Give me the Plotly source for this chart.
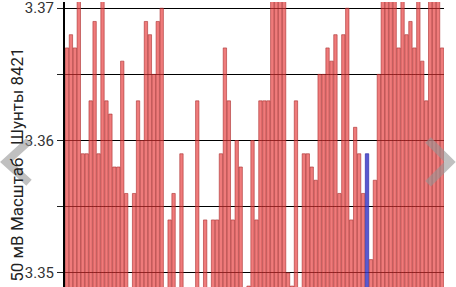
import plotly.graph_objects as go

# ---- data ----
values = [
    3.367, 3.368, 3.367, 3.371, 3.359, 3.359, 3.363, 3.369, 3.359, 3.371,
    3.363, 3.362, 3.358, 3.358, 3.366, 3.356, 3.348, 3.356, 3.363, 3.360,
    3.369, 3.368, 3.365, 3.369, 3.370, 3.348, 3.354, 3.356, 3.348, 3.359,
    3.348, 3.348, 3.348, 3.363, 3.348, 3.354, 3.348, 3.354, 3.354, 3.359,
    3.367, 3.363, 3.354, 3.360, 3.358, 3.348, 3.349, 3.360, 3.354, 3.363,
    3.363, 3.363, 3.371, 3.371, 3.371, 3.371, 3.350, 3.349, 3.363, 3.348,
    3.359, 3.359, 3.358, 3.357, 3.365, 3.365, 3.367, 3.366, 3.368, 3.356,
    3.368, 3.370, 3.354, 3.361, 3.359, 3.356, 3.359, 3.351, 3.357, 3.365,
    3.371, 3.371, 3.371, 3.371, 3.367, 3.371, 3.368, 3.369, 3.367, 3.371,
    3.366, 3.363, 3.371, 3.371, 3.371, 3.367,
]
highlight_index = 76
tick_values = [3.35, 3.355, 3.36, 3.365, 3.37]
tick_labels = ["3.35", "", "3.36", "", "3.37"]
y_title = "50 мВ Масштаб\u00a0\u00a0\u00a0Шунты 8421"

W, H = 456, 287
ML, MR, MT, MB = 65, 12, 0, 0
PW = W - ML - MR
PH = H - MT - MB


def px(x):
    return (x - ML) / PW


def py(y):
    return (H - MB - y) / PH


idx = list(range(len(values)))
fill = ["rgba(230,55,55,0.66)"] * len(values)
edge = ["rgba(170,45,45,0.75)"] * len(values)
fill[highlight_index] = "rgba(60,60,200,0.85)"
edge[highlight_index] = "rgba(50,50,170,0.9)"

fig = go.Figure(
    go.Bar(
        x=idx,
        y=values,
        marker=dict(color=fill, line=dict(color=edge, width=0.8)),
    )
)

fig.update_layout(
    width=W,
    height=H,
    margin=dict(l=ML, r=MR, t=MT, b=MB, pad=0),
    paper_bgcolor="white",
    plot_bgcolor="white",
    showlegend=False,
    bargap=0.15,
    font=dict(family="Roboto", color="#222"),
)

fig.update_xaxes(
    range=[-0.5, len(values) - 0.5],
    showgrid=False,
    showticklabels=False,
    ticks="",
    zeroline=False,
    showline=False,
)

fig.update_yaxes(
    range=[3.34893, 3.37047],
    tickvals=tick_values,
    ticktext=tick_labels,
    ticks="outside",
    ticklen=6,
    tickwidth=1,
    tickcolor="#222",
    tickfont=dict(size=15, color="#333", family="Roboto"),
    ticklabeloverflow="allow",
    showgrid=True,
    gridcolor="black",
    gridwidth=1,
    zeroline=False,
    showline=True,
    linecolor="black",
    linewidth=2,
)

fig.add_annotation(
    text=y_title,
    xref="paper", yref="paper",
    x=px(17), y=py(164),
    showarrow=False,
    textangle=-90,
    font=dict(size=17, color="#222", family="Roboto"),
    xanchor="center", yanchor="middle",
)


def chevron(points):
    d = "M {} {}".format(px(points[0][0]), py(points[0][1]))
    for (x, y) in points[1:]:
        d += " L {} {}".format(px(x), py(y))
    return d


for pts in ([(29, 140), (6, 161), (29, 182)], [(428, 139), (450, 161), (428, 183)]):
    fig.add_shape(
        type="path",
        path=chevron(pts),
        xref="paper", yref="paper",
        line=dict(color="rgba(150,150,150,0.6)", width=8),
        layer="above",
    )

fig.write_html("out.html")
